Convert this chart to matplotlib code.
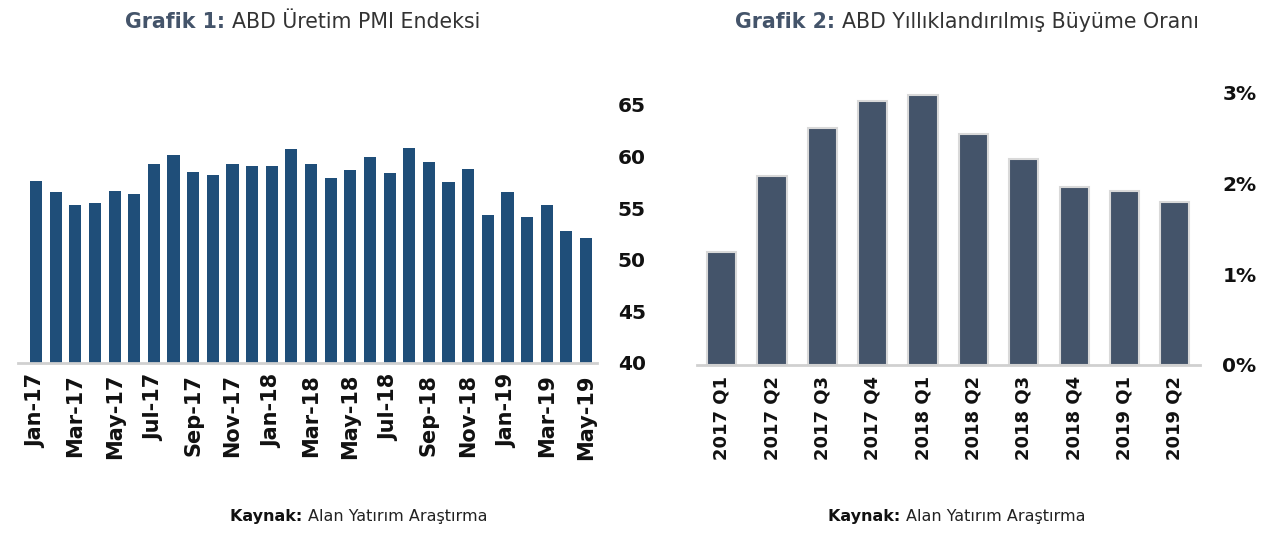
import matplotlib
matplotlib.use("Agg")
import matplotlib.pyplot as plt
from matplotlib.ticker import FuncFormatter

months = ["Jan-17","Feb-17","Mar-17","Apr-17","May-17","Jun-17","Jul-17","Aug-17","Sep-17","Oct-17",
          "Nov-17","Dec-17","Jan-18","Feb-18","Mar-18","Apr-18","May-18","Jun-18","Jul-18","Aug-18",
          "Sep-18","Oct-18","Nov-18","Dec-18","Jan-19","Feb-19","Mar-19","Apr-19","May-19"]
pmi = [57.6, 56.6, 55.3, 55.5, 56.7, 56.4, 59.3, 60.2, 58.5, 58.2,
       59.3, 59.1, 59.1, 60.7, 59.3, 57.9, 58.7, 60.0, 58.4, 60.8,
       59.5, 57.5, 58.8, 54.3, 56.6, 54.1, 55.3, 52.8, 52.1]
pmi_ticks = [40, 45, 50, 55, 60, 65]

quarters = ["2017 Q1","2017 Q2","2017 Q3","2017 Q4","2018 Q1","2018 Q2","2018 Q3","2018 Q4","2019 Q1","2019 Q2"]
growth = [1.25, 2.09, 2.61, 2.91, 2.98, 2.55, 2.27, 1.96, 1.92, 1.80]
growth_ticks = [0, 1, 2, 3]

W, H = 1265, 538
fig = plt.figure(figsize=(W/100, H/100), dpi=100)
plt.rcParams['font.family'] = ['DejaVu Sans']

def frac(x0, y0, x1, y1):
    return [x0/W, 1 - y1/H, (x1-x0)/W, (y1-y0)/H]

# Left chart
ax1 = fig.add_axes(frac(18, 105, 597, 363))
x1 = list(range(len(months)))
ax1.bar(x1, pmi, width=0.62, color="#1f4e79", zorder=2)
ax1.set_ylim(40, 65)
ax1.set_xlim(-0.92, 28.56)
ax1.set_yticks(pmi_ticks)
ax1.yaxis.tick_right()
ax1.set_xticks(x1[::2])
ax1.set_xticklabels(months[::2], rotation=90, fontsize=15, fontweight="bold", color="#111111")
for lab in ax1.get_yticklabels():
    lab.set_fontsize(14.5); lab.set_fontweight("bold"); lab.set_color("#111111")
ax1.tick_params(axis="both", length=0)
ax1.tick_params(axis="y", pad=15)
ax1.tick_params(axis="x", pad=8)
for s in ["top", "left", "right"]:
    ax1.spines[s].set_visible(False)
ax1.spines["bottom"].set_color("#d0d0d0")
ax1.spines["bottom"].set_linewidth(2)

# Right chart
ax2 = fig.add_axes(frac(697, 93, 1200, 365))
x2 = list(range(len(quarters)))
ax2.bar(x2, [g/100 for g in growth], width=0.58, color="#44546a", edgecolor="#d9d9d9", linewidth=1.5, zorder=2)
ax2.set_ylim(0, 0.03)
ax2.set_xlim(-0.49, 9.5)
ax2.set_yticks([t/100 for t in growth_ticks])
ax2.yaxis.set_major_formatter(FuncFormatter(lambda v, p: f"{v*100:.0f}%"))
ax2.yaxis.tick_right()
ax2.set_xticks(x2)
ax2.set_xticklabels(quarters, rotation=90, fontsize=13, fontweight="bold", color="#111111")
for lab in ax2.get_yticklabels():
    lab.set_fontsize(14.5); lab.set_fontweight("bold"); lab.set_color("#111111")
ax2.tick_params(axis="both", length=0)
ax2.tick_params(axis="y", pad=16)
ax2.tick_params(axis="x", pad=8)
for s in ["top", "left", "right"]:
    ax2.spines[s].set_visible(False)
ax2.spines["bottom"].set_color("#d0d0d0")
ax2.spines["bottom"].set_linewidth(2)

# Titles
def two_part(xc, y, bold, normal, size, color_b, color_n):
    t = fig.text(xc, y, bold + " " + normal, ha="center", va="center", fontsize=size, alpha=0)
    fig.canvas.draw()
    r = fig.canvas.get_renderer()
    bb = t.get_window_extent(r)
    t.remove()
    x0 = bb.x0 / W
    tb = fig.text(x0, y, bold + " ", ha="left", va="center", fontsize=size, fontweight="bold", color=color_b)
    bb2 = tb.get_window_extent(r)
    fig.text(bb2.x1 / W, y, normal, ha="left", va="center", fontsize=size, color=color_n)

two_part(296/W, 1 - 22/H, "Grafik 1:", "ABD Üretim PMI Endeksi", 14.8, "#44546a", "#333333")
two_part(961/W, 1 - 22/H, "Grafik 2:", "ABD Yıllıklandırılmış Büyüme Oranı", 14.8, "#44546a", "#333333")
two_part(355/W, 1 - 517/H, "Kaynak:", "Alan Yatırım Araştırma", 11.5, "#111111", "#222222")
two_part(953/W, 1 - 517/H, "Kaynak:", "Alan Yatırım Araştırma", 11.5, "#111111", "#222222")

fig.savefig("out.png", dpi=100, facecolor="white")
